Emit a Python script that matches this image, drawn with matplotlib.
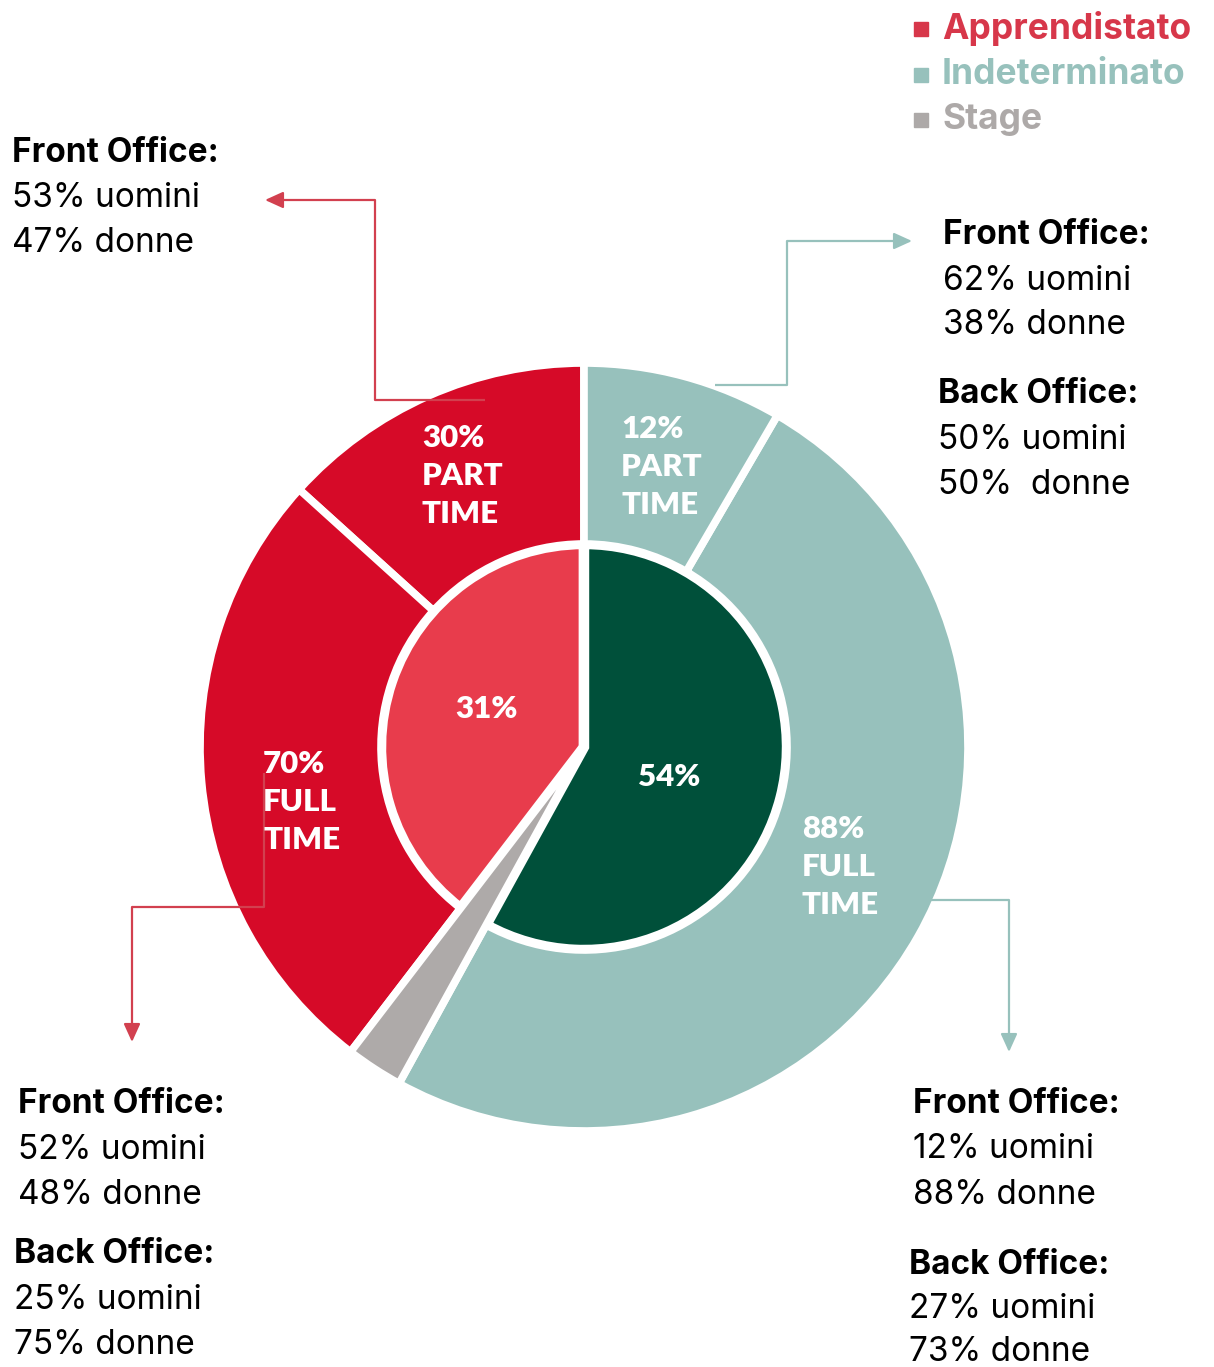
import matplotlib
matplotlib.use("Agg")
import matplotlib.pyplot as plt

plt.rcParams['font.family'] = ['Inter', 'DejaVu Sans']

# ---------------- data ----------------
categories = ['Apprendistato', 'Indeterminato', 'Stage']
legend_colors = ['#D7374A', '#97C1BC', '#ADA9A8']

# inner pie (share of the circle as drawn): Apprendistato, Stage, Indeterminato
inner_shares = [39.6, 2.4, 58.0]
inner_labels = ['31%', '', '54%']
inner_colors = ['#E83C4C', '#AEAAA9', '#00503A']

# outer ring (share of the circle as drawn)
outer_shares = [13.3, 26.3, 2.4, 49.6, 8.4]
outer_labels = ['30%\nPART\nTIME', '70%\nFULL\nTIME', '', '88%\nFULL\nTIME', '12%\nPART\nTIME']
outer_colors = ['#D60A28', '#D60A28', '#AEAAA9', '#97C1BC', '#97C1BC']

notes_tl = [('Front Office:', True), ('53% uomini', False), ('47% donne', False)]
notes_tr = [('Front Office:', True), ('62% uomini', False), ('38% donne', False),
            ('Back Office:', True), ('50% uomini', False), ('50%  donne', False)]
notes_bl = [('Front Office:', True), ('52% uomini', False), ('48% donne', False),
            ('Back Office:', True), ('25% uomini', False), ('75% donne', False)]
notes_br = [('Front Office:', True), ('12% uomini', False), ('88% donne', False),
            ('Back Office:', True), ('27% uomini', False), ('73% donne', False)]

# ---------------- layout ----------------
W, H = 1214, 1367
fig = plt.figure(figsize=(W / 100, H / 100), dpi=100)
ax = fig.add_axes([0, 0, 1, 1])

cx, cy = 584, 747
R_out = 384
R_in = 203

# y axis is inverted below -> startangle -90 & clockwise data = visually up & counter-clockwise
inner_p, _ = ax.pie(inner_shares, radius=R_in, center=(cx, cy), startangle=-90,
                    counterclock=False, colors=inner_colors,
                    wedgeprops=dict(edgecolor='white', linewidth=7.5))
inner_p[1].set_visible(False)

outer_p, _ = ax.pie(outer_shares, radius=R_out, center=(cx, cy), startangle=-90,
                    counterclock=False, colors=outer_colors,
                    wedgeprops=dict(width=R_out - R_in, edgecolor='white', linewidth=5.5))
# stage wedge runs from the centre to the outer edge
outer_p[2].set_width(None)
outer_p[2].set_zorder(5)

white = dict(family=['Lato', 'DejaVu Sans'], color='white', fontsize=22.5,
             fontweight='heavy', linespacing=1.42, zorder=8)
ax.text(422, 476, outer_labels[0], ha='left', va='center', **white)
ax.text(263, 802, outer_labels[1], ha='left', va='center', **white)
ax.text(802, 867, outer_labels[3], ha='left', va='center', **white)
ax.text(621, 467, outer_labels[4], ha='left', va='center', **white)
ax.text(487, 709, inner_labels[0], ha='center', va='center', **white)
ax.text(669, 777, inner_labels[2], ha='center', va='center', **white)

# connectors
red_line = '#D2404F'
teal_line = '#97C1BC'
connectors = [
    ([(485, 400), (375, 400), (375, 200), (265, 200)], red_line),
    ([(715, 385), (787, 385), (787, 241), (912, 241)], teal_line),
    ([(264, 773), (264, 907), (132, 907), (132, 1042)], red_line),
    ([(930, 900), (1009, 900), (1009, 1052)], teal_line),
]
for pts, col in connectors:
    xs = [p[0] for p in pts[:-1]]
    ys = [p[1] for p in pts[:-1]]
    ax.plot(xs, ys, color=col, lw=1.6, zorder=6, solid_capstyle='butt')
    ax.annotate('', xy=pts[-1], xytext=pts[-2],
                arrowprops=dict(arrowstyle='-|>,head_length=11,head_width=5',
                                mutation_scale=1, color=col, lw=1.6,
                                shrinkA=0, shrinkB=0), zorder=6)

# legend
leg_y = [28, 74, 119]
for name, col, y in zip(categories, legend_colors, leg_y):
    ax.plot([921], [y + 1], marker='s', markersize=10, color=col, linestyle='none')
    ax.text(942, y + 1, name, color=col, fontsize=25.5, fontweight='bold', ha='left', va='center')

def block(items, xs, ys):
    for (txt, bold), x, y in zip(items, xs, ys):
        ax.text(x, y, txt, fontsize=24, fontweight='bold' if bold else 'normal',
                color='black', ha='left', va='baseline')

block(notes_tl, [12, 12, 12], [162, 207, 252])
block(notes_tr, [943, 943, 943, 938, 938, 938], [244, 290, 334, 403, 449, 494])
block(notes_bl, [18, 18, 18, 14, 14, 14], [1113, 1159, 1204, 1263, 1309, 1354])
block(notes_br, [913, 913, 913, 909, 909, 909], [1113, 1158, 1204, 1274, 1318, 1361])

ax.set_xlim(0, W)
ax.set_ylim(H, 0)
ax.set_aspect('equal')
ax.axis('off')

fig.savefig('out.png', dpi=100, facecolor='white')
